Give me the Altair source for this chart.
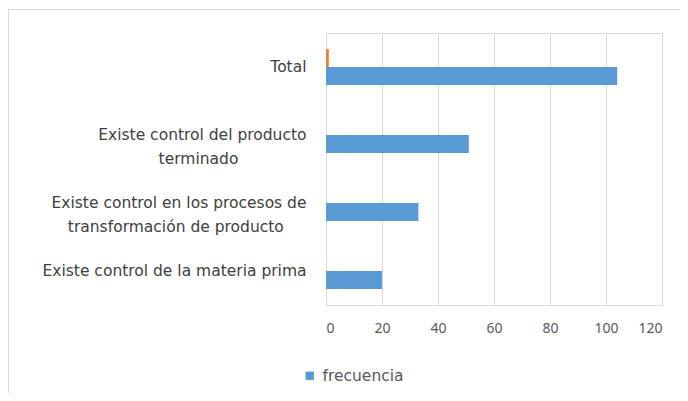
import altair as alt
import pandas as pd

PAD = "\u2800"
categories = [
    "Total",
    "Existe control del producto|terminado" + PAD * 6,
    "Existe control en los procesos de|transformación de producto" + PAD * 2,
    "Existe control de la materia prima",
]
series_names = ["porcentaje", "frecuencia"]
frecuencia = [104, 51, 33, 20]
porcentaje = [1.0, 0, 0, 0]
x_ticks = [0, 20, 40, 60, 80, 100, 120]

rows = []
for c, f, p in zip(categories, frecuencia, porcentaje):
    rows.append({"cat": c, "serie": "porcentaje", "valor": p})
    rows.append({"cat": c, "serie": "frecuencia", "valor": f})
df = pd.DataFrame(rows)

FONT = "DejaVu Sans"
TFONT = "Noto Sans"

border = alt.Chart(alt.Data(values=[{"a": 1}])).mark_rect(
    fill="transparent", stroke="#d9d9d9", strokeWidth=1
).encode(
    x=alt.value(-317.5), x2=alt.value(500),
    y=alt.value(-23.5), y2=alt.value(500),
)

bars = alt.Chart(df).mark_bar().encode(
    y=alt.Y(
        "cat:N",
        sort=categories,
        scale=alt.Scale(domain=categories, paddingInner=0.47, paddingOuter=0.235),
        axis=alt.Axis(
            title=None, ticks=False, domain=False, labelPadding=20,
            labelExpr="split(datum.label, '|')",
            labelFont=FONT, labelFontSize=15.5, labelColor="#404040",
            labelLimit=400, labelLineHeight=24,
        ),
    ),
    yOffset=alt.YOffset("serie:N", sort=series_names,
                        scale=alt.Scale(domain=series_names)),
    x=alt.X(
        "valor:Q",
        scale=alt.Scale(domain=[0, 120], nice=False),
        axis=alt.Axis(
            title=None, values=x_ticks, ticks=False, domain=False,
            grid=True, gridColor="#d9d9d9", gridWidth=1,
            labelFont=TFONT, labelFontSize=14, labelColor="#595959",
            labelPadding=16,
        ),
    ),
    color=alt.Color(
        "serie:N",
        scale=alt.Scale(domain=series_names, range=["#ED7D31", "#5B9BD5"]),
        legend=alt.Legend(
            title=None, values=["frecuencia"], orient="none",
            legendX=-24, legendY=335, symbolType="square", symbolSize=70,
            symbolStrokeWidth=0, labelOffset=5,
            labelFont=FONT, labelFontSize=15.5, labelColor="#595959",
        ),
    ),
)

chart = alt.layer(border, bars).properties(
    width=336, height=272,
    autosize=alt.AutoSizeParams(type="none"),
    padding={"left": 318, "top": 25, "right": 18, "bottom": 88},
).configure_view(stroke=None).configure(background="white")

chart.save("out.html", embed_options={"renderer": "svg", "actions": False})
